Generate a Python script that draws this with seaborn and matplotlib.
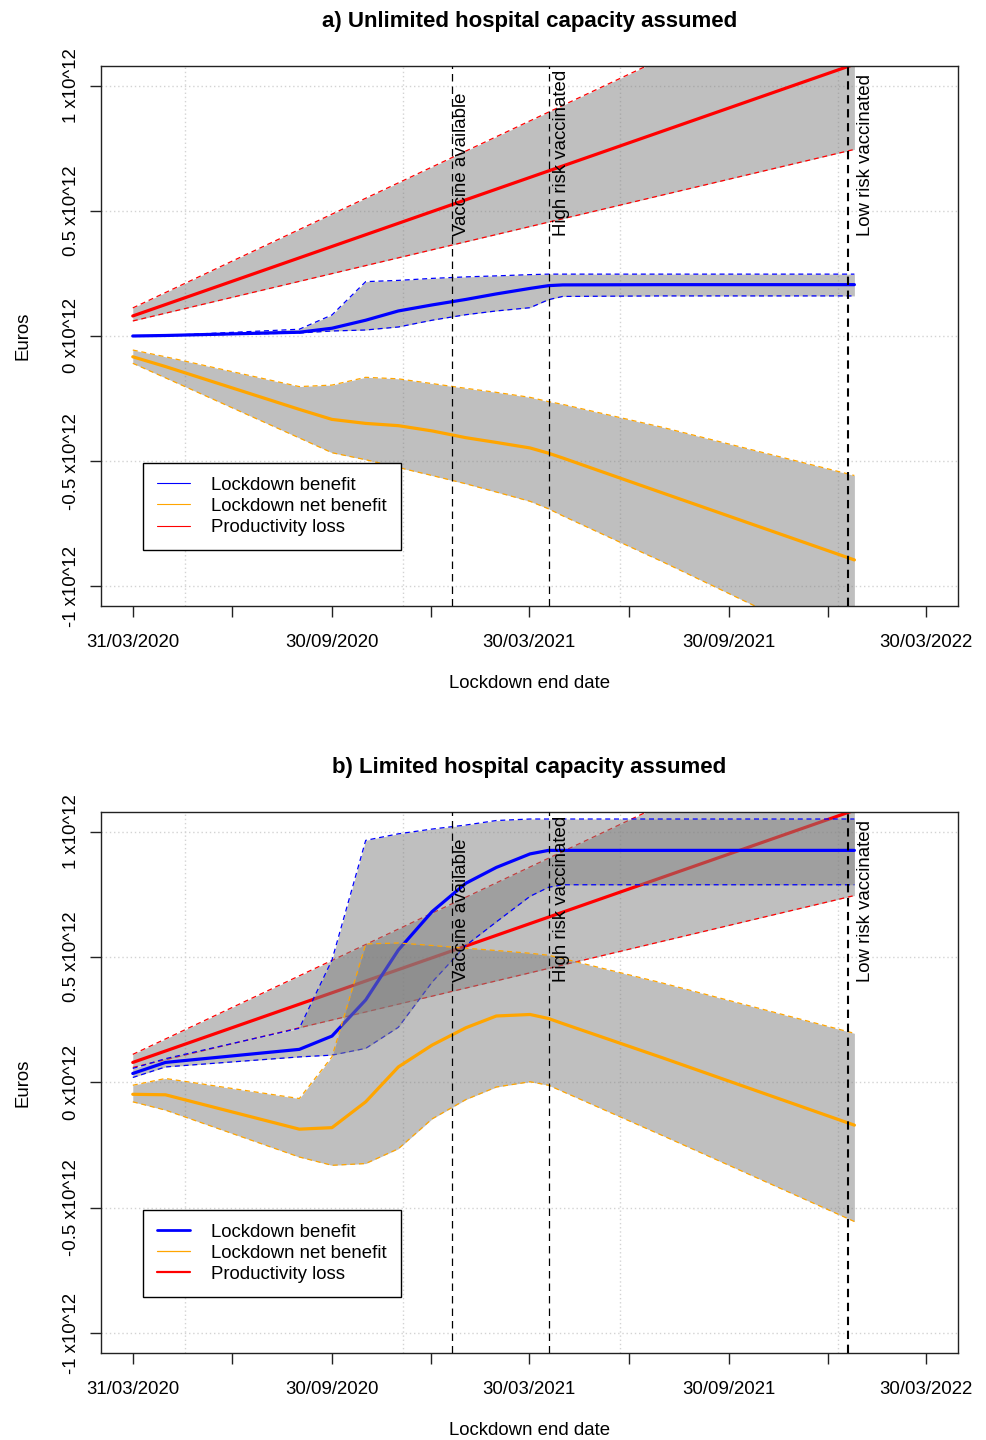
import numpy as np
import pandas as pd
import matplotlib
matplotlib.use('Agg')
import matplotlib.pyplot as plt
import matplotlib.dates as mdates
from matplotlib.lines import Line2D
import seaborn as sns

# ---------------- data (values in units of 10^12 euros) ----------------
dates = pd.to_datetime(['2020-03-31', '2020-04-30', '2020-08-31', '2020-09-30', '2020-10-31',
                        '2020-11-30', '2020-12-31', '2021-01-31', '2021-02-28', '2021-03-31',
                        '2021-04-17', '2021-04-30', '2021-07-31', '2022-01-23'])
prod_dates = pd.to_datetime(['2020-03-31', '2022-01-23'])

# productivity loss (same in both panels)
prod_mean = [0.080, 1.085]
prod_lo = [0.060, 0.745]
prod_hi = [0.112, 1.469]

# panel a: unlimited hospital capacity
ben_mean_a = [0.000, 0.002, 0.015, 0.031, 0.063, 0.100, 0.124, 0.146, 0.168, 0.190, 0.201, 0.204, 0.205, 0.205]
ben_lo_a = [0.000, 0.001, 0.012, 0.020, 0.024, 0.036, 0.063, 0.085, 0.100, 0.113, 0.145, 0.158, 0.160, 0.160]
ben_hi_a = [0.000, 0.002, 0.027, 0.084, 0.217, 0.222, 0.230, 0.236, 0.240, 0.245, 0.247, 0.247, 0.247, 0.247]
net_mean_a = [-0.083, -0.122, -0.293, -0.333, -0.349, -0.358, -0.379, -0.406, -0.425, -0.447, -0.468, -0.487, -0.627, -0.894]
net_hi_a = [-0.056, -0.083, -0.202, -0.196, -0.165, -0.171, -0.190, -0.209, -0.225, -0.245, -0.262, -0.273, -0.365, -0.557]
net_lo_a = [-0.109, -0.167, -0.407, -0.466, -0.494, -0.525, -0.557, -0.590, -0.623, -0.660, -0.690, -0.718, -0.902, -1.268]

# panel b: limited hospital capacity
ben_mean_b = [0.036, 0.080, 0.132, 0.185, 0.329, 0.528, 0.681, 0.794, 0.857, 0.911, 0.925, 0.925, 0.925, 0.925]
ben_lo_b = [0.020, 0.062, 0.102, 0.109, 0.136, 0.220, 0.400, 0.546, 0.640, 0.742, 0.778, 0.788, 0.788, 0.788]
ben_hi_b = [0.056, 0.095, 0.216, 0.488, 0.965, 0.991, 1.010, 1.026, 1.044, 1.050, 1.050, 1.050, 1.050, 1.050]
net_mean_b = [-0.047, -0.049, -0.186, -0.180, -0.077, 0.062, 0.149, 0.218, 0.265, 0.271, 0.255, 0.235, 0.098, -0.170]
net_hi_b = [-0.011, 0.016, -0.064, 0.102, 0.552, 0.556, 0.546, 0.535, 0.526, 0.515, 0.507, 0.494, 0.396, 0.196]
net_lo_b = [-0.077, -0.110, -0.297, -0.330, -0.323, -0.264, -0.145, -0.068, -0.018, 0.003, -0.011, -0.036, -0.212, -0.554]

# milestones
milestone_dates = pd.to_datetime(['2021-01-18', '2021-04-17', '2022-01-17'])
milestone_labels = ['Vaccine available', 'High risk vaccinated', 'Low risk vaccinated']
milestone_text_offset_days = [1.0, 4.0, 8.0]

# axis ticks
xtick_dates = pd.to_datetime(['2020-03-31', '2020-06-30', '2020-09-30', '2020-12-30', '2021-03-30',
                              '2021-06-30', '2021-09-30', '2021-12-30', '2022-03-30'])
xtick_labels = ['31/03/2020', '', '30/09/2020', '', '30/03/2021', '', '30/09/2021', '', '30/03/2022']
grid_dates = pd.to_datetime(['2020-05-18', '2020-12-04', '2021-06-22', '2022-01-08'])
ytick_vals = [-1, -0.5, 0, 0.5, 1]
ytick_labels = ['-1 x10^12', '-0.5 x10^12', '0 x10^12', '0.5 x10^12', '1 x10^12']

titles = ['a) Unlimited hospital capacity assumed', 'b) Limited hospital capacity assumed']
legend_labels = ['Lockdown benefit', 'Lockdown net benefit', 'Productivity loss']

BLUE, ORANGE, RED = '#0000FF', '#FFA500', '#FF0000'
BAND = (0.5, 0.5, 0.5, 0.5)

sns.set_style('ticks')
plt.rcParams['font.family'] = ['Liberation Sans', 'DejaVu Sans']
plt.rcParams['font.size'] = 13.4
for k in ['text.color', 'axes.labelcolor', 'xtick.color', 'ytick.color']:
    plt.rcParams[k] = 'black'

fig = plt.figure(figsize=(9.87, 14.4), dpi=100)
ax_a = fig.add_axes([0.10233, 0.57917, 0.86829, 0.375])
ax_b = fig.add_axes([0.10233, 0.060417, 0.86829, 0.3757])

DASH = (0, (4, 3))


def band(ax, x, lo, hi, mean, color):
    ax.fill_between(x, lo, hi, color=BAND, linewidth=0, zorder=2)
    sns.lineplot(x=x, y=lo, ax=ax, color=color, linewidth=0.9, linestyle=DASH, zorder=2)
    sns.lineplot(x=x, y=hi, ax=ax, color=color, linewidth=0.9, linestyle=DASH, zorder=2)
    sns.lineplot(x=x, y=mean, ax=ax, color=color, linewidth=2.3, zorder=2)


def panel(ax, title, title_y, ben, net, leg_lw):
    ax.set_xlim(pd.Timestamp('2020-03-01 19:00'), pd.Timestamp('2022-04-28 05:00'))
    ax.set_ylim(-1.078, 1.078)
    for y in ytick_vals:
        ax.axhline(y, color='#D3D3D3', linestyle=(0, (1, 2)), linewidth=1, zorder=0)
    for d in grid_dates:
        ax.axvline(d, color='#D3D3D3', linestyle=(0, (1, 2)), linewidth=1, zorder=0)

    band(ax, prod_dates, prod_lo, prod_hi, prod_mean, RED)
    band(ax, dates, ben[1], ben[2], ben[0], BLUE)
    band(ax, dates, net[1], net[2], net[0], ORANGE)

    for i, (d, lab, off) in enumerate(zip(milestone_dates, milestone_labels, milestone_text_offset_days)):
        if i == 2:
            ax.axvline(d, color='black', linestyle=(0, (4, 2.7)), linewidth=1.5, zorder=3)
        else:
            ax.axvline(d, color='black', linestyle=(0, (6, 4)), linewidth=0.9, zorder=3)
        ax.text(d + pd.Timedelta(days=off), 0.40, lab, rotation=90, rotation_mode='anchor',
                ha='left', va='top', fontsize=13.4, zorder=4)

    ax.set_xticks(xtick_dates)
    ax.set_xticklabels(xtick_labels)
    ax.set_yticks(ytick_vals)
    ax.set_yticklabels(ytick_labels, rotation=90, va='center')
    ax.tick_params(axis='both', direction='out', length=8, width=1, color='#222222',
                   bottom=True, left=True, labelsize=13.4)
    ax.tick_params(axis='x', pad=12.5)
    ax.tick_params(axis='y', pad=7)
    for s in ax.spines.values():
        s.set_visible(True)
        s.set_color('#222222')
        s.set_linewidth(1)
    ax.set_xlabel('Lockdown end date', fontsize=13.4, labelpad=17)
    ax.set_ylabel('Euros', fontsize=13.4, labelpad=22.5)

    handles = [Line2D([0], [0], color=BLUE, lw=leg_lw[0]),
               Line2D([0], [0], color=ORANGE, lw=leg_lw[1]),
               Line2D([0], [0], color=RED, lw=leg_lw[2])]
    leg = ax.legend(handles, legend_labels, loc='lower left', bbox_to_anchor=(0.049, 0.1037),
                    borderaxespad=0, frameon=True, fancybox=False, edgecolor='black',
                    framealpha=1, handlelength=1.8, handletextpad=1.1, labelspacing=0.22,
                    borderpad=0.75, fontsize=13.4)
    leg.get_frame().set_linewidth(1)
    leg.set_zorder(5)
    fig.text(529.5 / 987, 1 - title_y / 1440, title,
             ha='center', va='center', fontsize=16, fontweight='bold')


panel(ax_a, titles[0], 21, (ben_mean_a, ben_lo_a, ben_hi_a), (net_mean_a, net_lo_a, net_hi_a), (0.8, 0.8, 0.8))
panel(ax_b, titles[1], 768, (ben_mean_b, ben_lo_b, ben_hi_b), (net_mean_b, net_lo_b, net_hi_b), (2.0, 0.9, 1.6))

fig.savefig('out.png', dpi=100)
